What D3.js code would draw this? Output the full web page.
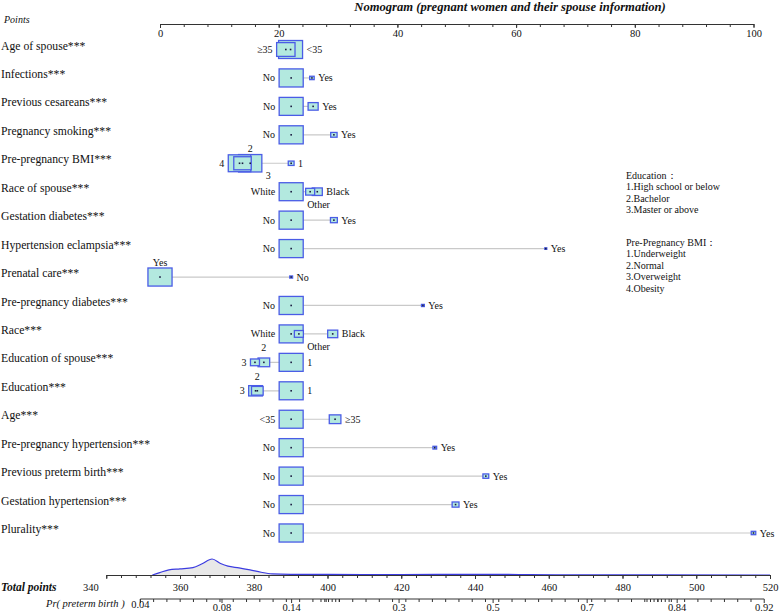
<!DOCTYPE html>
<html>
<head>
<meta charset="utf-8">
<script src="https://cdn.jsdelivr.net/npm/d3@7"></script>
<style>
  body { margin: 0; background: #fff; }
  svg text { font-family: "Liberation Serif", "Times New Roman", serif; fill: #111; }
</style>
</head>
<body>
<div id="chart"></div>
<script>
const title = 'Nomogram (pregnant women and their spouse information)';

const variables = [
    'Age of spouse***', 'Infections***', 'Previous cesareans***', 'Pregnancy smoking***',
    'Pre-pregnancy BMI***', 'Race of spouse***', 'Gestation diabetes***', 'Hypertension eclampsia***',
    'Prenatal care***', 'Pre-pregnancy diabetes***', 'Race***', 'Education of spouse***',
    'Education***', 'Age***', 'Pre-pregnancy hypertension***', 'Previous preterm birth***',
    'Gestation hypertension***', 'Plurality***'
];

const levelNames = [
    ['<35', '≥35'], ['No', 'Yes'], ['No', 'Yes'], ['No', 'Yes'],
    ['1', '2', '3', '4'], ['White', 'Black', 'Other'], ['No', 'Yes'], ['No', 'Yes'],
    ['No', 'Yes'], ['No', 'Yes'], ['White', 'Black', 'Other'], ['1', '2', '3'],
    ['1', '2', '3'], ['<35', '≥35'], ['No', 'Yes'], ['No', 'Yes'],
    ['No', 'Yes'], ['No', 'Yes']
];

// points
const levelPoints = [
    [22.0, 21.2], [22.1, 25.6], [22.1, 25.8], [22.1, 29.3],
    [22.1, 15.2, 13.9, 13.4], [22.1, 26.5, 25.3], [22.1, 29.3], [22.1, 65.0],
    [22.1, 0], [22.1, 44.3], [22.1, 29.1, 23.4], [22.1, 17.5, 16.0],
    [22.1, 16.4, 16.1], [22.1, 29.5], [22.1, 46.3], [22.1, 54.9],
    [22.1, 49.8], [22.1, 100]
];

// share of the sample in each level (box area)
const levelShare = [
    [0.85, 0.5], [0.86, 0.03], [0.85, 0.15], [0.86, 0.06],
    [0.05, 0.8, 0.45, 0.75], [0.85, 0.15, 0.12], [0.86, 0.07], [0.86, 0.006],
    [0.012, 0.86], [0.86, 0.012], [0.85, 0.15, 0.12], [0.85, 0.2, 0.12],
    [0.85, 0.2, 0.28], [0.85, 0.2], [0.86, 0.02], [0.86, 0.05],
    [0.86, 0.07], [0.86, 0.03]
];

const pointTicks = [0, 20, 40, 60, 80, 100];
const totalTicks = [340, 360, 380, 400, 420, 440, 460, 480, 500, 520];
const probTicks = [0.04, 0.08, 0.14, 0.3, 0.5, 0.7, 0.84, 0.92];
const probMinorTicks = [0.175, 0.18, 0.185, 0.19, 0.195, 0.2, 0.8, 0.805, 0.81, 0.815, 0.82, 0.825, 0.83];

// linear predictor = intercept + slope * total points
const lpIntercept = -14.78;
const lpSlope = 0.03322;

// density of total points
const densityTotal = [352.5, 354.5, 357, 360, 363.5, 366, 368.7, 371, 373, 376, 379, 382, 385, 390, 400, 420, 440, 448, 455, 470, 490, 520];
const densityValue = [0, 0.15, 0.32, 0.38, 0.46, 0.7, 1.0, 0.72, 0.55, 0.45, 0.32, 0.17, 0.07, 0.04, 0.035, 0.03, 0.04, 0.04, 0.02, 0.01, 0.005, 0];

const educationLegend = ['Education：', '1.High school or below', '2.Bachelor', '3.Master or above'];
const bmiLegend = ['Pre-Pregnancy BMI：', '1.Underweight', '2.Normal', '3.Overweight', '4.Obesity'];

// #region Setup

const width = 780,
    height = 612;

const boxFill = '#b3e9df',
    boxStroke = '#4a5ce6',
    lineColor = '#c9c9c9';

const svg = d3.select('#chart')
    .append('svg')
    .attr('width', width)
    .attr('height', height);

const x = d3.scaleLinear().domain([0, 100]).range([160, 753.5]);
const xTotal = d3.scaleLinear().domain([340, 520]).range([106.25, 770]);
const yRow = d3.scalePoint().domain(variables).range([49.5, 533]);
const boxW = d3.scaleSqrt().domain([0, 1]).range([0, 26]);
const yDens = d3.scaleLinear().domain([0, 1]).range([575, 559]);

// #endregion

// #region Titles

svg.append('text')
    .attr('x', 510)
    .attr('y', 11)
    .attr('text-anchor', 'middle')
    .style('font-weight', 'bold')
    .style('font-style', 'italic')
    .style('font-size', '12.6px')
    .text(title);

svg.append('text')
    .attr('x', 4)
    .attr('y', 19)
    .attr('dy', '0.35em')
    .style('font-style', 'italic')
    .style('font-size', '10px')
    .text('Points');

// #endregion

// #region Axes

function drawAxis(y, scale, major, minor, labelOffset) {
    let g = svg.append('g').attr('transform', 'translate(0,' + y + ')');

    g.append('g')
        .call(d3.axisBottom(scale).tickValues(minor).tickSize(3).tickSizeOuter(0).tickFormat(''))
        .call(s => s.select('.domain').attr('stroke', '#333'))
        .call(s => s.selectAll('.tick line').attr('stroke', '#333'));

    let ax = g.append('g')
        .call(d3.axisBottom(scale).tickValues(major).tickSize(4).tickSizeOuter(0));
    ax.select('.domain').remove();
    ax.selectAll('.tick line').attr('stroke', '#333');
    ax.selectAll('.tick text')
        .attr('y', labelOffset)
        .attr('dy', '0.35em')
        .attr('font-family', null)
        .style('font-size', '10.5px');
    return ax;
}

drawAxis(24, x, pointTicks, d3.range(0, 101, 4), 9);

// total points: density above the axis
let area = d3.area()
    .x((d, i) => xTotal(densityTotal[i]))
    .y0(yDens(0))
    .y1(d => yDens(d))
    .curve(d3.curveMonotoneX);

svg.append('path')
    .datum(densityValue)
    .attr('d', area)
    .attr('fill', '#e8e8e8')
    .attr('stroke', 'none');

svg.append('path')
    .datum(densityValue)
    .attr('d', area.lineY1())
    .attr('fill', 'none')
    .attr('stroke', '#3c3ce0')
    .attr('stroke-width', 1.2);

let totalAxis = drawAxis(575, xTotal, totalTicks, d3.range(340, 521, 4), 12);
totalAxis.selectAll('.tick')
    .filter(d => d === 340)
    .select('text')
    .attr('x', -16);

svg.append('text')
    .attr('x', 1)
    .attr('y', 587)
    .attr('dy', '0.35em')
    .style('font-weight', 'bold')
    .style('font-style', 'italic')
    .style('font-size', '11.5px')
    .text('Total points');

// probability axis placed on the total points scale
function totalFromProb(p) {
    let lp = Math.log(p / (1 - p));
    return (lp - lpIntercept) / lpSlope;
}

let xProb = p => xTotal(totalFromProb(p));

let probG = svg.append('g').attr('transform', 'translate(0,599)');
let pStart = totalFromProb(probTicks[0]),
    pEnd = totalFromProb(probTicks[probTicks.length - 1]);

probG.append('line')
    .attr('x1', xTotal(pStart))
    .attr('x2', xTotal(pEnd))
    .attr('stroke', '#333');

let minorTotals = d3.range(pStart, pEnd, 3.6).concat(probMinorTicks.map(totalFromProb));
probG.selectAll('line.minor')
    .data(minorTotals)
    .enter()
    .append('line')
    .attr('class', 'minor')
    .attr('x1', d => xTotal(d))
    .attr('x2', d => xTotal(d))
    .attr('y2', 3)
    .attr('stroke', '#333');

probG.selectAll('line.major')
    .data(probTicks)
    .enter()
    .append('line')
    .attr('class', 'major')
    .attr('x1', d => xProb(d))
    .attr('x2', d => xProb(d))
    .attr('y2', 4)
    .attr('stroke', '#333');

probG.selectAll('text')
    .data(probTicks)
    .enter()
    .append('text')
    .attr('x', d => xProb(d))
    .attr('y', (d, i) => i === 0 ? 5 : 8)
    .attr('dy', '0.35em')
    .attr('text-anchor', 'middle')
    .style('font-size', '10.5px')
    .text(d => d);

svg.append('text')
    .attr('x', 46)
    .attr('y', 603)
    .attr('dy', '0.35em')
    .style('font-style', 'italic')
    .style('font-size', '10.5px')
    .text('Pr( preterm birth )');

// #endregion

// #region Rows

variables.forEach(function(v, i) {
    let cy = yRow(v);

    svg.append('text')
        .attr('x', 1)
        .attr('y', cy - 4)
        .attr('dy', '0.35em')
        .style('font-size', '11.7px')
        .text(v);

    let levels = levelNames[i].map(function(name, j) {
        let w = boxW(levelShare[i][j]);
        return {name: name, idx: j, pt: levelPoints[i][j], w: w, h: w * 0.75, cx: x(levelPoints[i][j])};
    });

    let lo = d3.min(levels, d => d.pt),
        hi = d3.max(levels, d => d.pt);

    let g = svg.append('g');

    g.append('line')
        .attr('x1', x(lo))
        .attr('x2', x(hi))
        .attr('y1', cy)
        .attr('y2', cy)
        .attr('stroke', lineColor)
        .attr('stroke-width', 1.2);

    let byShare = levels.slice().sort((a, b) => b.w - a.w);

    g.selectAll('rect.box')
        .data(byShare)
        .enter()
        .append('rect')
        .attr('class', 'box')
        .attr('x', d => d.cx - d.w / 2)
        .attr('y', d => cy - d.h / 2)
        .attr('width', d => d.w)
        .attr('height', d => d.h)
        .attr('fill', boxFill)
        .attr('stroke', boxStroke)
        .attr('stroke-width', 1.3);

    g.selectAll('rect.dot')
        .data(byShare)
        .enter()
        .append('rect')
        .attr('class', 'dot')
        .attr('x', d => d.cx - 0.8)
        .attr('y', cy - 0.8)
        .attr('width', 1.6)
        .attr('height', 1.6)
        .attr('fill', '#1a1a40');

    // labels: lowest to the left, highest to the right, others above / below
    let sorted = levels.slice().sort((a, b) => a.pt - b.pt);
    let minLv = sorted[0],
        maxLv = sorted[sorted.length - 1];
    let leftEdge = d3.min(levels, d => d.cx - d.w / 2),
        rightEdge = d3.max(levels, d => d.cx + d.w / 2);
    let big = byShare[0];

    levels.forEach(function(d) {
        let t = g.append('text')
            .attr('dy', '0.35em')
            .style('font-size', '10px')
            .text(d.name);

        if (d === minLv && leftEdge - 25 > 150) {
            t.attr('x', leftEdge - 4).attr('y', cy).attr('text-anchor', 'end');
        } else if (d === maxLv) {
            t.attr('x', rightEdge + 4).attr('y', cy);
        } else if (d === minLv || d.idx % 2 === 1) {
            t.attr('x', d.cx).attr('y', cy - 14.5).attr('text-anchor', 'middle');
        } else {
            let tw = t.node().getComputedTextLength();
            let ty = cy + 12.5;
            let tx = d.cx - tw / 2;
            let overlapX = tx < big.cx + big.w / 2 && tx + tw > big.cx - big.w / 2;
            if (big !== d && overlapX && ty - 5 < cy + big.h / 2) {
                tx = big.cx + big.w / 2 + 4;
            }
            t.attr('x', tx).attr('y', ty);
        }
    });
});

// #endregion

// #region Legend

function drawLegend(lines, top) {
    svg.append('g')
        .selectAll('text')
        .data(lines)
        .enter()
        .append('text')
        .attr('x', 626)
        .attr('y', (d, i) => top + i * 11.5)
        .attr('dy', '0.35em')
        .style('font-size', '10px')
        .text(d => d);
}

drawLegend(educationLegend, 175);
drawLegend(bmiLegend, 242);

// #endregion
</script>
</body>
</html>
